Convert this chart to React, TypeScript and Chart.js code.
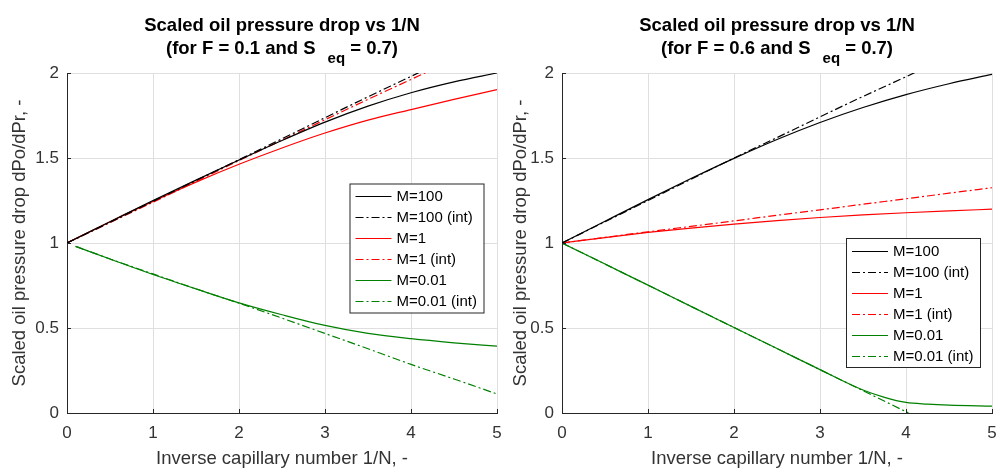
import React, { useEffect, useRef } from 'react';
import { Chart, registerables } from 'chart.js';

Chart.register(...registerables);

const FONT = '"Liberation Sans", Arial, Helvetica, sans-serif';

// ---- axes ----
const X_TICKS = [0, 1, 2, 3, 4, 5];
const Y_TICKS = [0, 0.5, 1, 1.5, 2];
const X_LABEL = 'Inverse capillary number 1/N, -';
const Y_LABEL = 'Scaled oil pressure drop dPo/dPr, -';
const LEGEND_LABELS = ['M=100', 'M=100 (int)', 'M=1', 'M=1 (int)', 'M=0.01', 'M=0.01 (int)'];

// ---- common abscissa ----
const X_COMMON = [0, 0.5, 1, 1.5, 2, 2.5, 3, 3.5, 4, 4.5, 5];

// ---- F = 0.1 ----
const F01_M100 = [1, 1.125, 1.25, 1.37, 1.488, 1.603, 1.711, 1.805, 1.884, 1.948, 2.0];
const F01_M100_INT = [1, 1.122, 1.245, 1.368, 1.49, 1.613, 1.737, 1.86, 1.98, 2.102, 2.225];
const F01_M1 = [1, 1.125, 1.245, 1.358, 1.463, 1.559, 1.647, 1.723, 1.785, 1.845, 1.902];
const F01_M1_INT = [1, 1.12, 1.24, 1.362, 1.485, 1.605, 1.725, 1.845, 1.962, 2.08, 2.2];
const F01_GREEN_X = [0.1, 0.5, 1, 1.5, 2, 2.5, 3, 3.5, 4, 4.5, 5];
const F01_M001 = [0.98, 0.906, 0.815, 0.73, 0.648, 0.578, 0.515, 0.468, 0.437, 0.413, 0.393];
const F01_M001_INT = [0.98, 0.906, 0.818, 0.73, 0.646, 0.558, 0.468, 0.378, 0.286, 0.2, 0.112];

// ---- F = 0.6 ----
const F06_M100 = [1, 1.128, 1.255, 1.379, 1.498, 1.609, 1.709, 1.797, 1.873, 1.937, 1.992];
const F06_M100_INT = [1, 1.125, 1.25, 1.375, 1.5, 1.62, 1.742, 1.862, 1.978, 2.1, 2.22];
const F06_M1 = [1, 1.032, 1.062, 1.088, 1.111, 1.132, 1.15, 1.165, 1.178, 1.189, 1.199];
const F06_M1_INT = [1, 1.033, 1.066, 1.098, 1.13, 1.163, 1.195, 1.228, 1.26, 1.293, 1.325];
const F06_GREEN_X = [0, 0.5, 1, 1.5, 2, 2.5, 3, 3.5, 3.75, 4, 4.25, 4.5, 5];
const F06_M001 = [1, 0.876, 0.752, 0.627, 0.503, 0.379, 0.255, 0.135, 0.092, 0.062, 0.052, 0.046, 0.04];
const F06_GREEN_INT_X = [0, 1, 2, 3, 4.03];
const F06_M001_INT = [1, 0.752, 0.503, 0.255, 0];

const BLACK = '#000000';
const RED = '#ff0000';
const GREEN = '#008000';
const DASH_DOT = [8, 3, 2, 3];

function pts(xs: number[], ys: number[]) {
  return xs.map((x, i) => ({ x, y: ys[i] }));
}

function makeDatasets(series: { xs: number[]; ys: number[] }[]) {
  const colors = [BLACK, BLACK, RED, RED, GREEN, GREEN];
  return series.map((s, i) => ({
    label: LEGEND_LABELS[i],
    data: pts(s.xs, s.ys),
    borderColor: colors[i],
    backgroundColor: colors[i],
    borderWidth: 1.2,
    borderDash: i % 2 === 1 ? DASH_DOT : [],
    pointRadius: 0,
    fill: false,
    tension: 0,
    cubicInterpolationMode: 'monotone' as const,
  }));
}

const titlePlugin = {
  id: 'subTitle',
  afterDraw(chart: any, _args: any, opts: any) {
    const { ctx, chartArea } = chart;
    const cx = (chartArea.left + chartArea.right) / 2;
    ctx.save();
    ctx.fillStyle = '#000';
    ctx.textBaseline = 'alphabetic';
    ctx.textAlign = 'left';
    const main = `bold 18.5px ${FONT}`;
    const sub = `bold 15px ${FONT}`;
    ctx.font = main;
    const l1 = opts.line1 as string;
    const w1 = ctx.measureText(l1).width;
    ctx.fillText(l1, cx - w1 / 2, 30.5);
    const a = opts.pre as string;
    const s = opts.sub as string;
    const b = opts.post as string;
    ctx.font = main;
    const wa = ctx.measureText(a).width;
    const wb = ctx.measureText(b).width;
    ctx.font = sub;
    const ws = ctx.measureText(s).width;
    const gap = 12;
    const total = wa + gap + ws + wb;
    let x = cx - total / 2;
    ctx.font = main;
    ctx.fillText(a, x, 53.5);
    x += wa + gap;
    ctx.font = sub;
    ctx.fillText(s, x, 63);
    x += ws;
    ctx.font = main;
    ctx.fillText(b, x, 53.5);
    ctx.restore();
  },
};

const innerTicksPlugin = {
  id: 'innerTicks',
  afterDraw(chart: any) {
    const { ctx, chartArea, scales } = chart;
    ctx.save();
    ctx.strokeStyle = '#262626';
    ctx.lineWidth = 1;
    ctx.beginPath();
    X_TICKS.forEach((v) => {
      const px = Math.round(scales.x.getPixelForValue(v)) + 0.5;
      ctx.moveTo(px, chartArea.bottom);
      ctx.lineTo(px, chartArea.bottom - 4);
    });
    Y_TICKS.forEach((v) => {
      const py = Math.round(scales.y.getPixelForValue(v)) + 0.5;
      ctx.moveTo(chartArea.left, py);
      ctx.lineTo(chartArea.left + 4, py);
    });
    ctx.stroke();
    ctx.restore();
  },
};

const boxLegendPlugin = {
  id: 'boxLegend',
  afterDraw(chart: any, _args: any, opts: any) {
    const { ctx } = chart;
    const { x, y, w, h, rowStart, rowGap } = opts;
    ctx.save();
    ctx.fillStyle = '#ffffff';
    ctx.fillRect(x, y, w, h);
    ctx.strokeStyle = '#262626';
    ctx.lineWidth = 1;
    ctx.strokeRect(x + 0.5, y + 0.5, w, h);
    chart.data.datasets.forEach((ds: any, i: number) => {
      const cy = Math.round(y + rowStart + i * rowGap) + 0.5;
      ctx.strokeStyle = ds.borderColor;
      ctx.lineWidth = ds.borderWidth;
      ctx.setLineDash(ds.borderDash || []);
      ctx.beginPath();
      ctx.moveTo(x + 6, cy);
      ctx.lineTo(x + 42, cy);
      ctx.stroke();
      ctx.setLineDash([]);
      ctx.fillStyle = '#000';
      ctx.font = `15px ${FONT}`;
      ctx.textBaseline = 'middle';
      ctx.textAlign = 'left';
      ctx.fillText(ds.label, x + 47, cy);
    });
    ctx.restore();
  },
};

type PanelProps = {
  left: number;
  width: number;
  yScaleWidth: number;
  rightPad: number;
  yTitlePad: number;
  fValue: string;
  legendX: number;
  legendY: number;
  series: { xs: number[]; ys: number[] }[];
};

function Panel(p: PanelProps) {
  const ref = useRef<HTMLCanvasElement | null>(null);
  useEffect(() => {
    if (!ref.current) return;
    const chart = new Chart(ref.current, {
      type: 'line',
      data: { datasets: makeDatasets(p.series) as any },
      plugins: [titlePlugin as any, innerTicksPlugin as any, boxLegendPlugin as any],
      options: {
        responsive: false,
        animation: false,
        layout: { padding: { top: 73, right: p.rightPad, left: 0, bottom: 0 } },
        plugins: {
          legend: { display: false },
          tooltip: { enabled: false },
          title: { display: false },
          subTitle: {
            line1: 'Scaled oil pressure drop vs 1/N',
            pre: `(for F = ${p.fValue} and S`,
            sub: 'eq',
            post: ' = 0.7)',
          },
          boxLegend: { x: p.legendX, y: p.legendY, w: 134, h: 129, rowStart: 12.5, rowGap: 21 },
        } as any,
        scales: {
          x: {
            type: 'linear',
            min: 0,
            max: 5,
            afterBuildTicks: (s: any) => {
              s.ticks = X_TICKS.map((v) => ({ value: v }));
            },
            afterFit: (s: any) => {
              s.height = 56;
              s.paddingLeft = 0;
              s.paddingRight = 0;
            },
            grid: { color: '#dfdfdf', lineWidth: 1, drawTicks: false },
            border: { display: true, color: '#262626', width: 1 },
            ticks: {
              color: '#333333',
              font: { family: FONT, size: 17 },
              padding: 10,
              maxRotation: 0,
              autoSkip: false,
              callback: (v: any) => String(v),
            },
            title: {
              display: true,
              text: X_LABEL,
              color: '#333333',
              font: { family: FONT, size: 18.5, lineHeight: 1 },
              padding: { top: 0, bottom: 1 },
            },
          },
          y: {
            type: 'linear',
            min: 0,
            max: 2,
            afterBuildTicks: (s: any) => {
              s.ticks = Y_TICKS.map((v) => ({ value: v }));
            },
            afterFit: (s: any) => {
              s.width = p.yScaleWidth;
              s.paddingTop = 0;
              s.paddingBottom = 0;
            },
            grid: { color: '#dfdfdf', lineWidth: 1, drawTicks: false },
            border: { display: true, color: '#262626', width: 1 },
            ticks: {
              color: '#333333',
              font: { family: FONT, size: 17 },
              padding: 8,
              autoSkip: false,
              callback: (v: any) => String(v),
            },
            title: {
              display: true,
              text: Y_LABEL,
              color: '#333333',
              font: { family: FONT, size: 18.5, lineHeight: 1 },
              padding: { top: p.yTitlePad, bottom: 0 },
            },
          },
        },
      } as any,
    });
    return () => chart.destroy();
  }, []);
  return (
    <canvas
      ref={ref}
      width={p.width}
      height={469}
      style={{ position: 'absolute', left: p.left, top: 0, width: p.width, height: 469, display: 'block' }}
    />
  );
}

export default function App() {
  const leftSeries = [
    { xs: X_COMMON, ys: F01_M100 },
    { xs: X_COMMON, ys: F01_M100_INT },
    { xs: X_COMMON, ys: F01_M1 },
    { xs: X_COMMON, ys: F01_M1_INT },
    { xs: F01_GREEN_X, ys: F01_M001 },
    { xs: F01_GREEN_X, ys: F01_M001_INT },
  ];
  const rightSeries = [
    { xs: X_COMMON, ys: F06_M100 },
    { xs: X_COMMON, ys: F06_M100_INT },
    { xs: X_COMMON, ys: F06_M1 },
    { xs: X_COMMON, ys: F06_M1_INT },
    { xs: F06_GREEN_X, ys: F06_M001 },
    { xs: F06_GREEN_INT_X, ys: F06_M001_INT },
  ];
  return (
    <div style={{ position: 'fixed', left: 0, top: 0, width: 996, height: 469, background: '#fff', overflow: 'hidden' }}>
      <Panel
        left={0}
        width={505}
        yScaleWidth={67}
        rightPad={8}
        yTitlePad={11}
        fValue="0.1"
        legendX={349.5}
        legendY={183.5}
        series={leftSeries}
      />
      <Panel
        left={505}
        width={491}
        yScaleWidth={57}
        rightPad={4}
        yTitlePad={7}
        fValue="0.6"
        legendX={341}
        legendY={238}
        series={rightSeries}
      />
    </div>
  );
}
